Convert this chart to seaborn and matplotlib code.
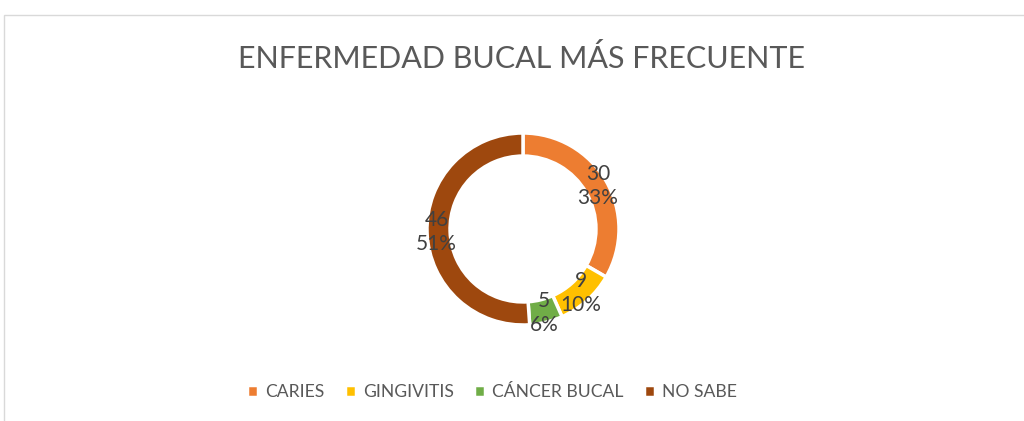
import seaborn as sns
import matplotlib.pyplot as plt
from matplotlib.patches import Rectangle

sns.set_theme(style="white")
plt.rcParams['font.family'] = ['Lato', 'DejaVu Sans']

# Datos
categorias = ["CARIES", "GINGIVITIS", "CÁNCER BUCAL", "NO SABE"]
valores = [30, 9, 5, 46]
colores = ["#ED7D31", "#FFC000", "#70AD47", "#9E480E"]
total = sum(valores)

W, H = 1024, 421
fig = plt.figure(figsize=(W / 100, H / 100), dpi=100)

# marco del grafico
fig.patches.append(Rectangle((4 / W, -0.1), 1.1, (H - 15) / H + 0.1,
                             transform=fig.transFigure, fill=False,
                             edgecolor="#D9D9D9", linewidth=1))

# anillo
cx, cy, r = 523, 229, 96
ax = fig.add_axes([(cx - r) / W, (H - cy - r) / H, 2 * r / W, 2 * r / H])


def etiqueta(p):
    return f"{round(p * total / 100)}\n{p:.0f}%"


wedges, _, autotexts = ax.pie(
    valores, colors=colores, startangle=90, counterclock=False,
    radius=1, autopct=etiqueta, pctdistance=0.9,
    wedgeprops=dict(width=0.24, edgecolor="white", linewidth=2.5),
    textprops=dict(color="#404040", fontsize=15, linespacing=1.25))
ax.set_xlim(-1, 1)
ax.set_ylim(-1, 1)
ax.set_aspect("equal")
ax.axis("off")

fig.text(522 / W, 1 - 59 / H, "ENFERMEDAD BUCAL MÁS FRECUENTE",
         ha="center", va="center", fontsize=22, color="#595959")

fig.legend(wedges, categorias, loc="center", bbox_to_anchor=(492 / W, 1 - 392 / H),
           ncol=4, frameon=False, fontsize=12.6, labelcolor="#595959",
           handlelength=0.65, handleheight=0.65, handletextpad=0.4,
           columnspacing=1.15)

plt.savefig("out.png", dpi=100)
